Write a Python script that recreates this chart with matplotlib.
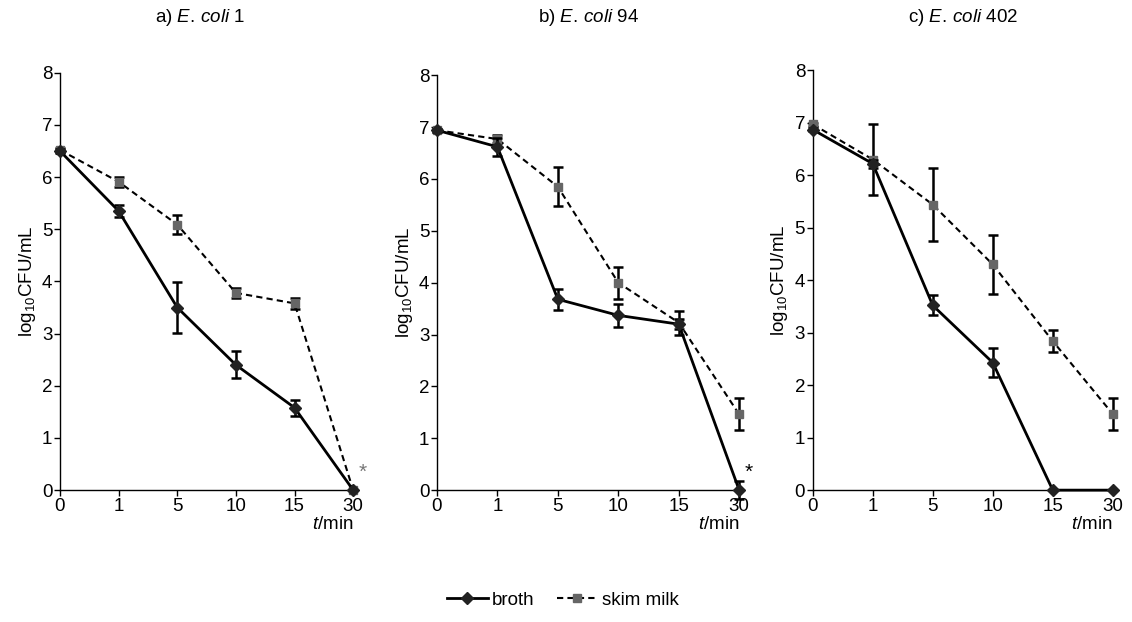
import matplotlib.pyplot as plt
import numpy as np

plt.rcParams['font.family'] = ['Liberation Sans', 'DejaVu Sans']
plt.rcParams['mathtext.fontset'] = 'custom'
plt.rcParams['mathtext.rm'] = 'Liberation Sans'
plt.rcParams['mathtext.it'] = 'Liberation Sans:italic'

times = ["0", "1", "5", "10", "15", "30"]
strains = ["1", "94", "402"]
letters = ["a)", "b)", "c)"]

# broth: mean and error
broth = [
    [6.50, 5.35, 3.50, 2.40, 1.58, 0.00],
    [6.94, 6.62, 3.68, 3.37, 3.20, 0.00],
    [6.87, 6.22, 3.52, 2.43, 0.00, 0.00],
]
broth_err = [
    [0.03, 0.12, 0.49, 0.26, 0.15, 0.00],
    [0.03, 0.17, 0.20, 0.22, 0.10, 0.17],
    [0.03, 0.08, 0.19, 0.28, 0.00, 0.00],
]
# skim milk: mean and error
milk = [
    [6.52, 5.91, 5.09, 3.78, 3.58, 0.00],
    [6.94, 6.77, 5.85, 4.00, 3.23, 1.46],
    [6.97, 6.30, 5.44, 4.30, 2.84, 1.45],
]
milk_err = [
    [0.03, 0.09, 0.18, 0.09, 0.10, 0.00],
    [0.03, 0.07, 0.38, 0.31, 0.23, 0.31],
    [0.03, 0.67, 0.69, 0.56, 0.21, 0.31],
]
# asterisk marks (panel, colour)
stars = {0: "#777777", 1: "black"}

fig = plt.figure(figsize=(11.32, 6.22), dpi=100)
boxes = [
    [0.053, 0.212, 0.259, 0.671],
    [0.386, 0.212, 0.267, 0.667],
    [0.718, 0.212, 0.265, 0.675],
]
title_x = [0.177, 0.520, 0.851]

fs = 13.5
x = np.arange(len(times))
for i, box in enumerate(boxes):
    ax = fig.add_axes(box)
    ax.errorbar(x, milk[i], yerr=milk_err[i], color="black", ls=(0, (3, 2)), lw=1.5,
                marker="s", ms=6, mfc="#666666", mec="#666666",
                ecolor="black", elinewidth=1.8, capsize=3.5, capthick=1.8,
                clip_on=False, zorder=3)
    ax.errorbar(x, broth[i], yerr=broth_err[i], color="black", ls="-", lw=2,
                marker="D", ms=6, mfc="#222222", mec="#222222",
                ecolor="black", elinewidth=1.8, capsize=3.5, capthick=1.8,
                clip_on=False, zorder=4)
    ax.set_xlim(0, 5)
    ax.set_ylim(0, 8)
    ax.set_xticks(x)
    ax.set_xticklabels(times)
    ax.set_yticks(range(0, 9))
    for s in ("top", "right"):
        ax.spines[s].set_visible(False)
    for s in ("left", "bottom"):
        ax.spines[s].set_linewidth(1.0)
    ax.tick_params(labelsize=fs, length=4, width=1, pad=1.5)
    ax.set_ylabel(r"log$_{10}$CFU/mL", fontsize=fs, labelpad=3)
    ax.text(1.0, -0.062, r"$\mathit{t}$/min", transform=ax.transAxes, ha="right",
            va="top", fontsize=fs)
    fig.text(title_x[i], 0.972, letters[i] + " " + r"$\mathit{E.}\,\mathit{coli}$" + " " + strains[i],
             ha="center", va="center", fontsize=fs)
    if i in stars:
        ax.text(5.16, 0.34, "*", ha="center", va="center", fontsize=15,
                color=stars[i], clip_on=False)

handles = [
    plt.Line2D([], [], color="black", lw=2, marker="D", ms=6, mfc="#222222", mec="#222222"),
    plt.Line2D([], [], color="black", lw=1.5, ls=(0, (3, 2)), marker="s", ms=6,
               mfc="#666666", mec="#666666"),
]
fig.legend(handles, ["broth", "skim milk"], loc="center", bbox_to_anchor=(0.497, 0.035),
           ncol=2, frameon=False, fontsize=fs, handlelength=2.2, handletextpad=0.2,
           columnspacing=1.2)

fig.savefig("out.png", dpi=100)
